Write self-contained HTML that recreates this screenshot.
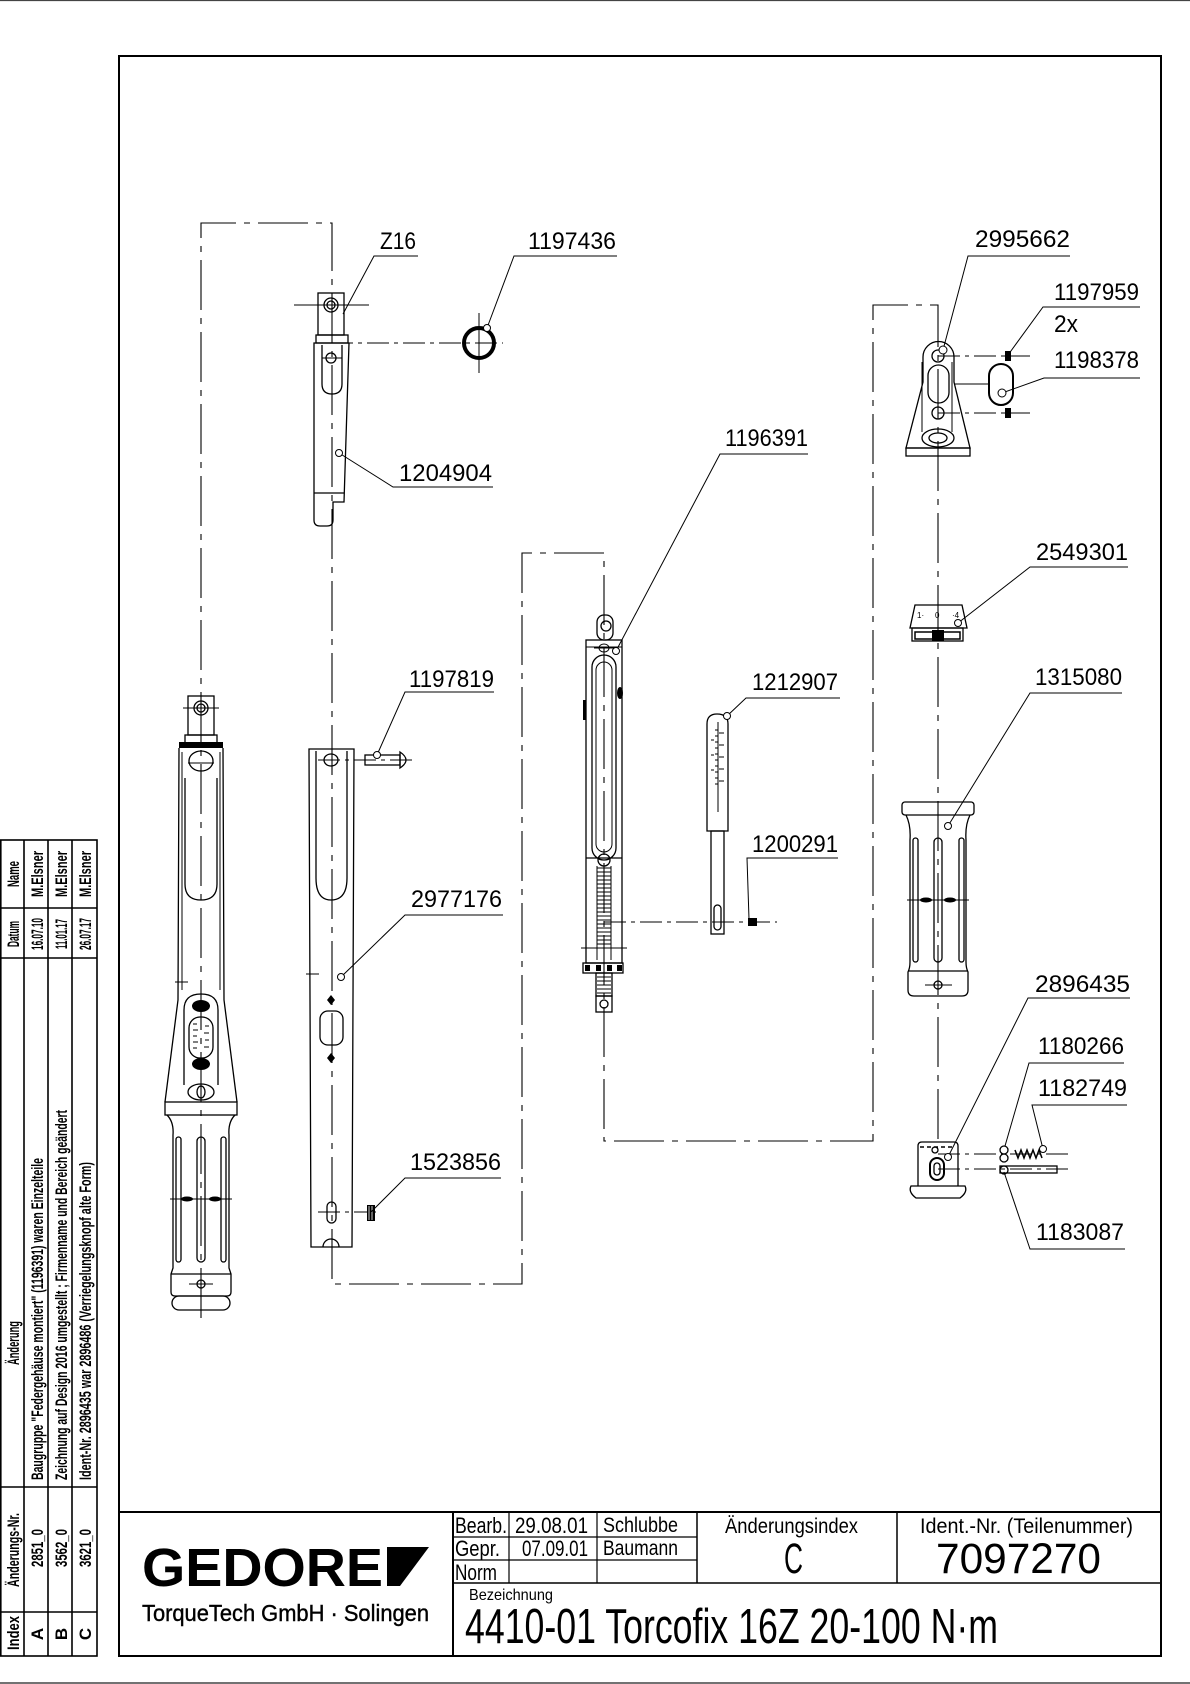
<!DOCTYPE html>
<html><head><meta charset="utf-8">
<style>
html,body{margin:0;padding:0;background:#fff;}
svg{display:block;}
.o{fill:none;stroke:#000;stroke-width:1.3;}
.t{fill:none;stroke:#000;stroke-width:1;}
.c{fill:none;stroke:#000;stroke-width:1.1;stroke-dasharray:50 8 6 8;}
.cs{fill:none;stroke:#000;stroke-width:1;stroke-dasharray:22 5 4 5;}
.lb{font-family:"Liberation Sans Narrow","Liberation Sans",sans-serif;font-size:24px;fill:#000;}
.tb{font-family:"Liberation Sans Narrow","Liberation Sans",sans-serif;fill:#000;}
.rv{font-family:"Liberation Sans Narrow","Liberation Sans",sans-serif;font-weight:bold;font-size:17px;fill:#000;}
</style></head>
<body>
<svg width="1190" height="1684" viewBox="0 0 1190 1684" xmlns="http://www.w3.org/2000/svg">
<rect width="1190" height="1684" fill="#fff"/>
<line x1="0" y1="0.5" x2="1190" y2="0.5" stroke="#444" stroke-width="1.2"/>
<line x1="0" y1="1683" x2="1190" y2="1683" stroke="#444" stroke-width="1.5"/>

<!-- Frame -->
<rect x="119" y="56" width="1042" height="1600" fill="none" stroke="#000" stroke-width="2"/>

<!-- Title block -->
<line x1="119" y1="1512" x2="1161" y2="1512" stroke="#000" stroke-width="2"/>
<line x1="453" y1="1512" x2="453" y2="1656" stroke="#000" stroke-width="2"/>
<line x1="453" y1="1537" x2="697" y2="1537" stroke="#000" stroke-width="1.2"/>
<line x1="453" y1="1560" x2="697" y2="1560" stroke="#000" stroke-width="1.2"/>
<line x1="453" y1="1583" x2="1161" y2="1583" stroke="#000" stroke-width="1.5"/>
<line x1="509" y1="1512" x2="509" y2="1583" stroke="#000" stroke-width="1.2"/>
<line x1="597" y1="1512" x2="597" y2="1583" stroke="#000" stroke-width="1.2"/>
<line x1="697" y1="1512" x2="697" y2="1583" stroke="#000" stroke-width="1.5"/>
<line x1="897" y1="1512" x2="897" y2="1583" stroke="#000" stroke-width="1.5"/>

<text class="tb" x="455" y="1533" font-size="22" textLength="52" lengthAdjust="spacingAndGlyphs">Bearb.</text>
<text class="tb" x="455" y="1556" font-size="22" textLength="45" lengthAdjust="spacingAndGlyphs">Gepr.</text>
<text class="tb" x="455" y="1580" font-size="22" textLength="42" lengthAdjust="spacingAndGlyphs">Norm</text>
<text class="tb" x="515" y="1533" font-size="22" textLength="73" lengthAdjust="spacingAndGlyphs">29.08.01</text>
<text class="tb" x="522" y="1556" font-size="22" textLength="66" lengthAdjust="spacingAndGlyphs">07.09.01</text>
<text class="tb" x="603" y="1532" font-size="21" textLength="75" lengthAdjust="spacingAndGlyphs">Schlubbe</text>
<text class="tb" x="603" y="1555" font-size="21" textLength="75" lengthAdjust="spacingAndGlyphs">Baumann</text>
<text class="tb" x="725" y="1533" font-size="21" textLength="133" lengthAdjust="spacingAndGlyphs">Änderungsindex</text>
<text class="tb" x="784" y="1573" font-size="43" textLength="19" lengthAdjust="spacingAndGlyphs">C</text>
<text class="tb" x="920" y="1533" font-size="21" textLength="213" lengthAdjust="spacingAndGlyphs">Ident.-Nr.  (Teilenummer)</text>
<text class="tb" x="936" y="1573" font-size="43" textLength="165" lengthAdjust="spacingAndGlyphs">7097270</text>
<text class="tb" x="469" y="1600" font-size="16" textLength="84" lengthAdjust="spacingAndGlyphs">Bezeichnung</text>
<text class="tb" x="465" y="1643" font-size="49" textLength="533" lengthAdjust="spacingAndGlyphs">4410-01 Torcofix 16Z  20-100 N·m</text>

<!-- Logo -->
<text x="142" y="1586" font-weight="bold" font-size="54" textLength="241" lengthAdjust="spacingAndGlyphs" fill="#000" style="font-family:'Liberation Sans',sans-serif">GEDORE</text>
<polygon points="387,1547 429,1547 400,1586 387,1586" fill="#000"/>
<text x="142" y="1621" font-size="23" textLength="287" lengthAdjust="spacingAndGlyphs" fill="#000" stroke="#000" stroke-width="0.4" style="font-family:'Liberation Sans',sans-serif">TorqueTech GmbH · Solingen</text>

<!-- Revision table (rotated) -->
<g stroke="#000" stroke-width="1.6" fill="none">
<rect x="0.8" y="840" width="96.2" height="816"/>
<line x1="24" y1="840" x2="24" y2="1656"/>
<line x1="48" y1="840" x2="48" y2="1656"/>
<line x1="72" y1="840" x2="72" y2="1656"/>
<line x1="0" y1="908" x2="97" y2="908"/>
<line x1="0" y1="958" x2="97" y2="958"/>
<line x1="0" y1="1487" x2="97" y2="1487"/>
<line x1="0" y1="1612" x2="97" y2="1612"/>
</g>
<g class="rv" text-anchor="middle">
<text transform="translate(19,874) rotate(-90)" textLength="26" lengthAdjust="spacingAndGlyphs">Name</text>
<text transform="translate(43,874) rotate(-90)" textLength="46" lengthAdjust="spacingAndGlyphs">M.Elsner</text>
<text transform="translate(67,874) rotate(-90)" textLength="46" lengthAdjust="spacingAndGlyphs">M.Elsner</text>
<text transform="translate(91,874) rotate(-90)" textLength="46" lengthAdjust="spacingAndGlyphs">M.Elsner</text>
<text transform="translate(19,934) rotate(-90)" textLength="26" lengthAdjust="spacingAndGlyphs">Datum</text>
<text transform="translate(43,934) rotate(-90)" textLength="32" lengthAdjust="spacingAndGlyphs">16.07.10</text>
<text transform="translate(67,934) rotate(-90)" textLength="30" lengthAdjust="spacingAndGlyphs">11.01.17</text>
<text transform="translate(91,934) rotate(-90)" textLength="32" lengthAdjust="spacingAndGlyphs">26.07.17</text>
<text transform="translate(19,1343) rotate(-90)" textLength="44" lengthAdjust="spacingAndGlyphs">Änderung</text>
<text transform="translate(19,1550) rotate(-90)" textLength="74" lengthAdjust="spacingAndGlyphs">Änderungs-Nr.</text>
<text transform="translate(43,1548) rotate(-90)" textLength="38" lengthAdjust="spacingAndGlyphs">2851_0</text>
<text transform="translate(67,1548) rotate(-90)" textLength="38" lengthAdjust="spacingAndGlyphs">3562_0</text>
<text transform="translate(91,1548) rotate(-90)" textLength="38" lengthAdjust="spacingAndGlyphs">3621_0</text>
<text transform="translate(19,1633) rotate(-90)" textLength="34" lengthAdjust="spacingAndGlyphs">Index</text>
<text transform="translate(43,1634) rotate(-90)">A</text>
<text transform="translate(67,1634) rotate(-90)">B</text>
<text transform="translate(91,1634) rotate(-90)">C</text>
</g>
<g class="rv">
<text transform="translate(43,1480) rotate(-90)" textLength="322" lengthAdjust="spacingAndGlyphs">Baugruppe "Federgehäuse montiert" (1196391) waren Einzelteile</text>
<text transform="translate(67,1480) rotate(-90)" textLength="370" lengthAdjust="spacingAndGlyphs">Zeichnung auf Design 2016 umgestellt ; Firmenname und Bereich geändert</text>
<text transform="translate(91,1480) rotate(-90)" textLength="318" lengthAdjust="spacingAndGlyphs">Ident-Nr. 2896435 war 2896486 (Verriegelungsknopf alte Form)</text>
</g>

<!-- Chain lines (assembly paths) -->
<path class="c" d="M201,1318 V223 H332 V1284 H522 V553 H604 V1141 H873 V305 H938 V1142"/>
<path class="cs" d="M331,343 H503"/>
<path class="cs" d="M318,760 H413"/>
<path class="cs" d="M318,1212 H378"/>
<path class="cs" d="M604,922 H777"/>
<path class="cs" d="M938,356 H1030"/>
<path class="cs" d="M938,413 H1030"/>
<path class="cs" d="M938,1154 H1073"/>
<path class="cs" d="M938,1169 H1073"/>
<line x1="954" y1="384" x2="989" y2="384" class="t"/>

<!-- Part A: full wrench -->
<g class="o">
<rect x="188" y="696" width="26" height="39"/>
<circle cx="201" cy="708" r="7"/><circle cx="201" cy="708" r="4"/>
<rect x="185" y="735" width="32" height="8"/>
<path d="M179,748 L178,1000 L165,1102 M223,748 L224,1000 L237,1102"/>
<path class="t" d="M182,752 V990 M220,752 V990"/>
<ellipse cx="201" cy="761" rx="12" ry="10"/>
<path d="M185,778 V884 Q185,900 201,900 Q217,900 217,884 V778"/>
<path d="M184,1085 V1010 Q184,994 201,994 Q218,994 218,1010 V1085"/>
<rect x="189" y="1017" width="24" height="41" rx="11"/>
<ellipse cx="201" cy="1092" rx="13" ry="8"/>
<ellipse cx="201" cy="1092" rx="4" ry="6"/>
<rect x="165" y="1102" width="72" height="13"/>
<path d="M167,1115 Q174,1122 173,1135 V1268 L171,1274 V1292 Q171,1296 175,1296 H227 Q231,1296 231,1292 V1274 L229,1268 V1135 Q228,1122 235,1115"/>
<line x1="171" y1="1274" x2="231" y2="1274"/>
<rect x="172" y="1296" width="58" height="14" rx="7"/>
<rect x="176" y="1137" width="5" height="125" rx="2.5"/>
<rect x="197" y="1137" width="8" height="125" rx="4"/>
<rect x="221" y="1137" width="5" height="125" rx="2.5"/>
<circle cx="201" cy="1284" r="4"/>
</g>
<rect x="179" y="742" width="44" height="6" fill="#000"/>
<ellipse cx="201" cy="1006" rx="9" ry="6" fill="#000"/>
<ellipse cx="201" cy="1064" rx="9" ry="6" fill="#000"/>
<ellipse cx="187" cy="1199" rx="6" ry="2.5" fill="#000"/>
<ellipse cx="215" cy="1199" rx="6" ry="2.5" fill="#000"/>
<g class="t">
<line x1="183" y1="708" x2="219" y2="708"/>
<line x1="188" y1="763" x2="214" y2="763"/>
<line x1="170" y1="1199" x2="232" y2="1199"/>
<line x1="189" y1="1284" x2="213" y2="1284"/>
<line x1="175" y1="982" x2="188" y2="982"/>
<path d="M193,1024 h4 M193,1030 h5 M193,1036 h4 M193,1042 h5 M193,1048 h4 M205,1026 h4 M204,1033 h5 M205,1040 h4 M204,1047 h5"/>
</g>

<!-- Part B: 1204904 -->
<g class="o">
<rect x="318" y="293" width="26" height="42"/>
<circle cx="331" cy="305" r="7"/><circle cx="331" cy="305" r="4"/>
<rect x="316" y="335" width="32" height="8"/>
<path d="M314,343 H349 L344,502 H333 V520 Q333,526 327,526 H320 Q314,526 314,520 Z"/>
<line x1="314" y1="493" x2="344" y2="493"/>
<path d="M322,345 V384 Q322,394 332,394 Q342,394 342,384 V345"/>
<circle cx="331" cy="358" r="5"/>
</g>
<g class="t">
<line x1="294" y1="305" x2="369" y2="305"/>
<line x1="322" y1="358" x2="342" y2="358"/>
</g>
<!-- Ring 1197436 -->
<circle cx="479" cy="343" r="15" fill="none" stroke="#000" stroke-width="4"/>
<line x1="479" y1="313" x2="479" y2="373" class="t"/>

<!-- Part C: 2977176 bar -->
<g class="o">
<path d="M309,749 H354 L352,1247 H311 Z"/>
<ellipse cx="331" cy="760" rx="7" ry="6"/>
<path d="M316,751 V878 Q316,900 331,900 Q347,900 347,878 V751"/>
<rect x="320" y="1011" width="23" height="34" rx="8"/>
<rect x="327" y="1202" width="9" height="21" rx="4.5"/>
<path d="M323,1247 A8,8 0 0 1 339,1247"/>
<rect x="365" y="755" width="35" height="10"/>
<path d="M400,752 Q412,760 400,768 Z"/>
</g>
<line x1="306" y1="974" x2="319" y2="974" class="t"/>
<path d="M331,995 l4,5 l-4,5 l-4,-5 Z M331,1053 l4,5 l-4,5 l-4,-5 Z" fill="#000"/>
<path d="M367,1205 h8 v16 h-8 Z" fill="#000"/>
<path d="M369,1206 v14 M372,1206 v14" stroke="#fff" stroke-width="0.8"/>

<!-- Part D: 1196391 -->
<g class="o">
<rect x="597" y="615" width="16" height="25" rx="7"/>
<circle cx="606" cy="626" r="5"/>
<rect x="586" y="640" width="36" height="323"/>
<rect x="592" y="655" width="24" height="205" rx="12"/>
<line x1="586" y1="858" x2="622" y2="858"/>
<rect x="583" y="963" width="40" height="10"/>
<rect x="596" y="973" width="16" height="23"/>
<rect x="596" y="996" width="16" height="16"/>
<circle cx="604" cy="1004" r="4"/>
<circle cx="604" cy="860" r="6"/>
</g>
<g class="t">
<line x1="586" y1="647" x2="622" y2="647"/>
<line x1="594" y1="648" x2="614" y2="648"/>
<ellipse cx="604" cy="648" rx="5" ry="4"/>
<rect x="596" y="662" width="16" height="190" rx="8"/>
<line x1="581" y1="948" x2="627" y2="948"/>
<line x1="597" y1="866" x2="597" y2="960"/>
<line x1="611" y1="866" x2="611" y2="960"/>
<path d="M597,868h14M597,872h14M597,876h14M597,880h14M597,884h14M597,888h14M597,892h14M597,896h14M597,900h14M597,904h14M597,908h14M597,912h14M597,916h14M597,920h14M597,924h14M597,928h14M597,932h14M597,936h14M597,940h14M597,944h14M597,977h14M597,981h14M597,985h14M597,989h14M597,993h14"/>
</g>
<ellipse cx="620" cy="693" rx="3" ry="6" fill="#000"/>
<rect x="583" y="700" width="3" height="20" fill="#000"/>
<path d="M585,965h5v6h-5zM596,965h5v6h-5zM607,965h5v6h-5zM617,965h5v6h-5z" fill="#000"/>

<!-- Part E: 1212907 scale -->
<g class="o">
<path d="M707,831 V724 Q707,714 717,714 Q728,714 728,724 V831 Z"/>
<rect x="711" y="831" width="13" height="103"/>
<rect x="714" y="905" width="7" height="25" rx="3.5"/>
</g>
<g class="t">
<line x1="718" y1="722" x2="718" y2="812"/>
<path d="M715,730h3M715,736h3M715,742h3M715,748h3M715,754h3M715,760h3M715,766h3M715,772h3M715,778h3M715,784h3M719,733h5M719,745h5M719,757h5M719,769h5M719,781h5M711,740h3M711,755h3M711,770h3"/>
</g>
<rect x="748" y="918" width="9" height="8" fill="#000"/>

<!-- Part F: 2995662 -->
<g class="o">
<path d="M906,448 L923,382 V357 A15.5,15.5 0 0 1 954,357 V382 L970,448 Z"/>
<rect x="906" y="448" width="64" height="8"/>
<circle cx="938" cy="356" r="6"/>
<rect x="928" y="365" width="21" height="38" rx="10.5"/>
<circle cx="938" cy="413" r="6"/>
<ellipse cx="938" cy="438" rx="16" ry="9"/>
<ellipse cx="938" cy="438" rx="9" ry="5"/>
</g>
<path d="M922,362 V432 M952,362 V432" class="t"/>
<rect x="989" y="364" width="24" height="41" rx="12" fill="none" stroke="#000" stroke-width="2"/>
<path d="M1005,351h6v10h-6zM1005,408h6v10h-6z" fill="#000"/>
<path d="M1011,356h12M1011,413h12" class="t"/>

<!-- Part G: 2549301 -->
<g class="o">
<path d="M915,605 H962 L967,628 H910 Z"/>
<rect x="912" y="628" width="51" height="13"/>
</g>
<rect x="915" y="632" width="45" height="7" fill="none" stroke="#000" stroke-width="1.5"/>
<rect x="932" y="630" width="12" height="11" fill="#000"/>
<text x="917" y="618" font-size="8" class="tb">1·</text>
<text x="935" y="618" font-size="8" class="tb">0</text>
<text x="952" y="618" font-size="8" class="tb">·4</text>

<!-- Part H: 1315080 grip -->
<g class="o">
<rect x="902" y="802" width="72" height="13" rx="3"/>
<path d="M906,815 Q911,825 910,840 V962 Q910,968 908,972 V990 Q908,996 914,996 H962 Q968,996 968,990 V972 Q966,968 966,962 V840 Q965,825 970,815"/>
<line x1="908" y1="971" x2="968" y2="971"/>
<rect x="913" y="838" width="5" height="124" rx="2.5"/>
<rect x="934" y="838" width="8" height="124" rx="4"/>
<rect x="959" y="838" width="5" height="124" rx="2.5"/>
<circle cx="938" cy="985" r="4"/>
</g>
<line x1="907" y1="900" x2="969" y2="900" class="t"/>
<line x1="925" y1="985" x2="952" y2="985" class="t"/>
<ellipse cx="926" cy="900" rx="6" ry="2.5" fill="#000"/>
<ellipse cx="950" cy="900" rx="6" ry="2.5" fill="#000"/>

<!-- Part I: 2896435 -->
<g class="o">
<path d="M918,1186 V1146 Q918,1142 922,1142 H954 Q958,1142 958,1146 V1186"/>
<path d="M911,1186 H965 Q968,1192 960,1198 H916 Q908,1192 911,1186 Z"/>
<rect x="930" y="1158" width="14" height="22" rx="7" stroke-width="2"/>
<rect x="934" y="1163" width="6" height="12" rx="3"/>
<circle cx="935" cy="1150" r="3"/>
</g>
<path d="M920,1147h4M927,1147h4M934,1147h4M941,1147h4M948,1147h4" stroke="#000" stroke-width="1.5"/>
<!-- ball, spring, pin -->
<g class="o">
<circle cx="1004" cy="1150" r="4"/>
<circle cx="1004" cy="1158" r="4"/>
<rect x="1000" y="1166" width="57" height="7"/>
<circle cx="1004" cy="1170" r="4"/>
</g>
<path d="M1015,1150 l3,8 l3,-8 l3,8 l3,-8 l3,8 l3,-8 l3,8 l3,-8 l3,8" fill="none" stroke="#000" stroke-width="1.5"/>

<!-- Labels: leaders -->
<g class="t">
<path d="M343,314 L374,256 H418"/>
<path d="M487,328 L514,256 H617"/>
<path d="M339,453 L393,487 H493"/>
<path d="M377,755 L405,692 H494"/>
<path d="M341,977 L405,915 H503"/>
<path d="M370,1213 L405,1178 H501"/>
<path d="M616,651 L720,454 H808"/>
<path d="M727,716 L746,698 H840"/>
<path d="M749,919 L747,858 H838"/>
<path d="M943,350 L968,256 H1070"/>
<path d="M1008,355 L1043,307 H1140"/>
<path d="M1002,393 L1044,378 H1140"/>
<path d="M958,623 L1030,567 H1128"/>
<path d="M948,826 L1030,693 H1122"/>
<path d="M948,1157 L1028,998 H1130"/>
<path d="M1005,1146 L1029,1063 H1124"/>
<path d="M1043,1149 L1032,1105 H1127"/>
<path d="M1004,1172 L1030,1249 H1125"/>
</g>
<g fill="#fff" stroke="#000" stroke-width="1">
<circle cx="487" cy="328" r="3.5"/>
<circle cx="339" cy="453" r="3.5"/>
<circle cx="377" cy="755" r="3.5"/>
<circle cx="341" cy="977" r="3.5"/>
<circle cx="616" cy="651" r="3.5"/>
<circle cx="727" cy="716" r="3.5"/>
<circle cx="943" cy="350" r="4"/>
<circle cx="1002" cy="393" r="4"/>
<circle cx="958" cy="623" r="3.5"/>
<circle cx="948" cy="826" r="3.5"/>
<circle cx="948" cy="1157" r="3.5"/>
<circle cx="1043" cy="1149" r="3.5"/>
</g>

<!-- Label texts -->
<g class="lb">
<text x="380" y="249" textLength="36" lengthAdjust="spacingAndGlyphs">Z16</text>
<text x="528" y="249" textLength="88" lengthAdjust="spacingAndGlyphs">1197436</text>
<text x="399" y="481" textLength="93" lengthAdjust="spacingAndGlyphs">1204904</text>
<text x="409" y="687" textLength="85" lengthAdjust="spacingAndGlyphs">1197819</text>
<text x="411" y="907" textLength="91" lengthAdjust="spacingAndGlyphs">2977176</text>
<text x="410" y="1170" textLength="91" lengthAdjust="spacingAndGlyphs">1523856</text>
<text x="725" y="446" textLength="83" lengthAdjust="spacingAndGlyphs">1196391</text>
<text x="752" y="690" textLength="86" lengthAdjust="spacingAndGlyphs">1212907</text>
<text x="752" y="852" textLength="86" lengthAdjust="spacingAndGlyphs">1200291</text>
<text x="975" y="247" textLength="95" lengthAdjust="spacingAndGlyphs">2995662</text>
<text x="1054" y="300" textLength="85" lengthAdjust="spacingAndGlyphs">1197959</text>
<text x="1054" y="332" textLength="24" lengthAdjust="spacingAndGlyphs">2x</text>
<text x="1054" y="368" textLength="85" lengthAdjust="spacingAndGlyphs">1198378</text>
<text x="1036" y="560" textLength="92" lengthAdjust="spacingAndGlyphs">2549301</text>
<text x="1035" y="685" textLength="87" lengthAdjust="spacingAndGlyphs">1315080</text>
<text x="1035" y="992" textLength="95" lengthAdjust="spacingAndGlyphs">2896435</text>
<text x="1038" y="1054" textLength="86" lengthAdjust="spacingAndGlyphs">1180266</text>
<text x="1038" y="1096" textLength="89" lengthAdjust="spacingAndGlyphs">1182749</text>
<text x="1036" y="1240" textLength="88" lengthAdjust="spacingAndGlyphs">1183087</text>
</g>
</svg>
</body></html>
